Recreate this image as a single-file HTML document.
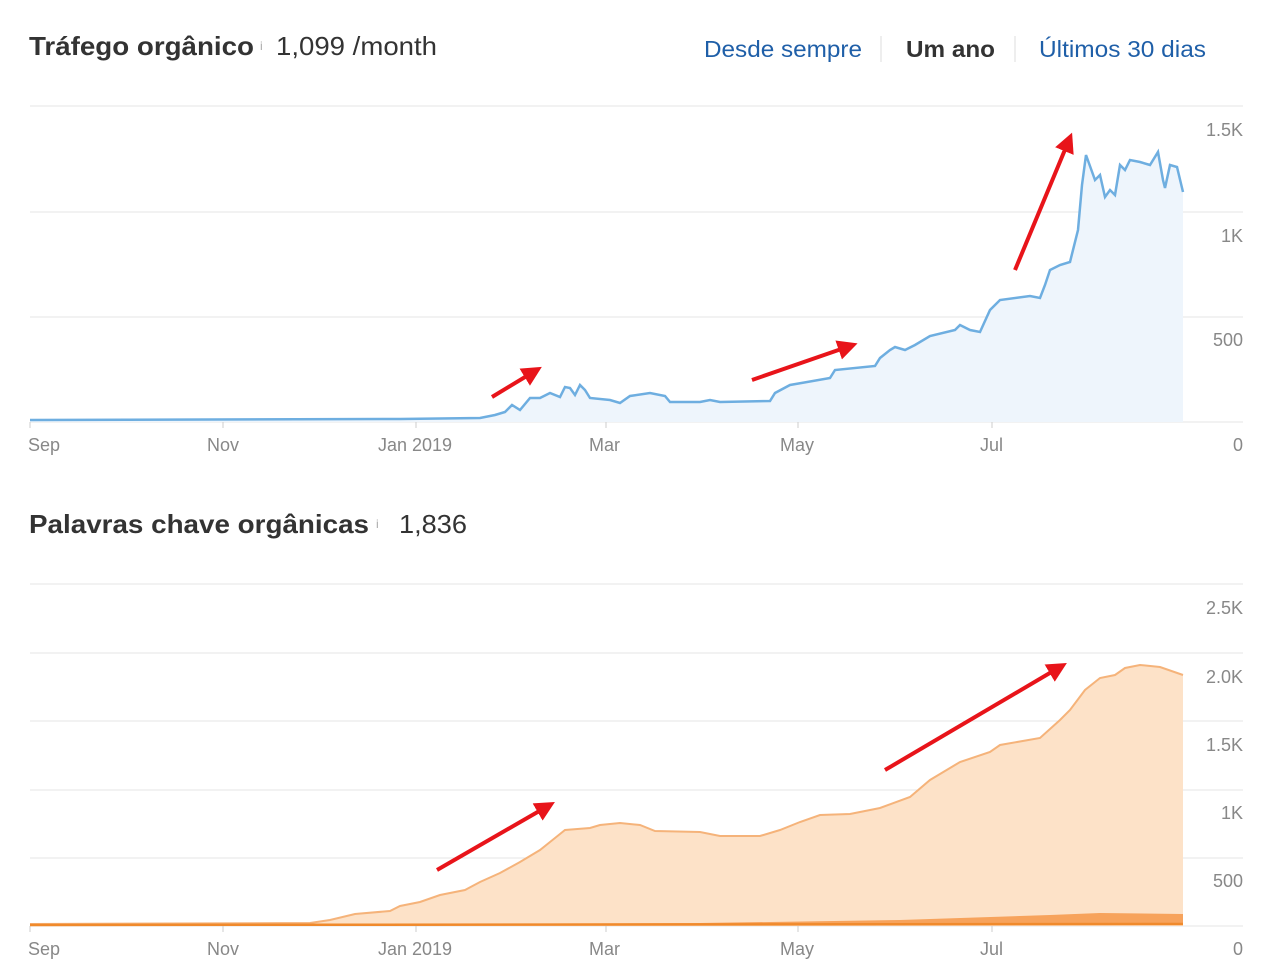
<!DOCTYPE html>
<html><head><meta charset="utf-8"><style>
body{margin:0;background:#fff;width:1275px;height:974px;overflow:hidden;font-family:"Liberation Sans",Arial,sans-serif}
svg text{font-family:"Liberation Sans",Arial,sans-serif}
</style></head><body>
<svg width="1275" height="974" viewBox="0 0 1275 974">
<defs><marker id="ah" markerWidth="6" markerHeight="6" refX="3" refY="3" orient="auto" markerUnits="strokeWidth"><path d="M0,0.5 L5,3 L0,5.5 Z" fill="#e8141a"/></marker></defs>
<text x="29" y="55" font-size="26" font-weight="bold" fill="#333" textLength="225" lengthAdjust="spacingAndGlyphs">Tráfego orgânico</text>
<text x="260" y="50" font-size="12" fill="#aaa">i</text>
<text x="276" y="55" font-size="26" fill="#333" textLength="161" lengthAdjust="spacingAndGlyphs">1,099 /month</text>
<text x="704" y="57" font-size="23" fill="#1f5fa8" textLength="158" lengthAdjust="spacingAndGlyphs">Desde sempre</text>
<line x1="881" y1="36" x2="881" y2="62" stroke="#ddd"/>
<text x="906" y="57" font-size="23" font-weight="bold" fill="#333" textLength="89" lengthAdjust="spacingAndGlyphs">Um ano</text>
<line x1="1015" y1="36" x2="1015" y2="62" stroke="#ddd"/>
<text x="1039" y="57" font-size="23" fill="#1f5fa8" textLength="167" lengthAdjust="spacingAndGlyphs">Últimos 30 dias</text>
<g stroke="#e6e6e6" stroke-width="1">
<line x1="30" y1="106" x2="1243" y2="106"/><line x1="30" y1="212" x2="1243" y2="212"/><line x1="30" y1="317" x2="1243" y2="317"/><line x1="30" y1="422" x2="1243" y2="422"/>
<line x1="30" y1="584" x2="1243" y2="584"/><line x1="30" y1="653" x2="1243" y2="653"/><line x1="30" y1="721" x2="1243" y2="721"/><line x1="30" y1="790" x2="1243" y2="790"/><line x1="30" y1="858" x2="1243" y2="858"/><line x1="30" y1="926" x2="1243" y2="926"/>
</g>
<g stroke="#ccc"><line x1="30" y1="422" x2="30" y2="428"/><line x1="223" y1="422" x2="223" y2="428"/><line x1="416" y1="422" x2="416" y2="428"/><line x1="606" y1="422" x2="606" y2="428"/><line x1="798" y1="422" x2="798" y2="428"/><line x1="992" y1="422" x2="992" y2="428"/>
<line x1="30" y1="926" x2="30" y2="932"/><line x1="223" y1="926" x2="223" y2="932"/><line x1="416" y1="926" x2="416" y2="932"/><line x1="606" y1="926" x2="606" y2="932"/><line x1="798" y1="926" x2="798" y2="932"/><line x1="992" y1="926" x2="992" y2="932"/></g>
<g font-size="18" fill="#888">
<text x="28" y="451">Sep</text><text x="207" y="451">Nov</text><text x="378" y="451">Jan 2019</text><text x="589" y="451">Mar</text><text x="780" y="451">May</text><text x="980" y="451">Jul</text>
<text x="28" y="955">Sep</text><text x="207" y="955">Nov</text><text x="378" y="955">Jan 2019</text><text x="589" y="955">Mar</text><text x="780" y="955">May</text><text x="980" y="955">Jul</text>
</g>
<g font-size="18" fill="#888" text-anchor="end">
<text x="1243" y="136">1.5K</text><text x="1243" y="242">1K</text><text x="1243" y="346">500</text><text x="1243" y="451">0</text>
<text x="1243" y="614">2.5K</text><text x="1243" y="683">2.0K</text><text x="1243" y="751">1.5K</text><text x="1243" y="819">1K</text><text x="1243" y="887">500</text><text x="1243" y="955">0</text>
</g>
<path d="M30,420 L400,419 L480,418 L495,415 L505,412 L512,405 L520,410 L530,398 L540,398 L550,393 L560,397 L565,387 L570,388 L575,395 L580,385 L585,390 L590,398 L610,400 L620,403 L630,396 L650,393 L665,396 L670,402 L700,402 L710,400 L720,402 L770,401 L775,393 L790,385 L830,378 L835,370 L875,366 L880,358 L890,350 L895,347 L905,350 L915,345 L930,336 L955,330 L960,325 L970,330 L980,332 L990,310 L1000,300 L1030,296 L1040,298 L1045,285 L1050,270 L1060,265 L1070,262 L1078,230 L1082,185 L1086,155 L1095,180 L1100,175 L1105,197 L1110,190 L1115,195 L1120,165 L1125,170 L1130,160 L1140,162 L1150,165 L1158,152 L1163,180 L1165,188 L1170,165 L1177,167 L1183,192 L1183,422 L30,422 Z" fill="#eef5fc"/>
<path d="M30,420 L400,419 L480,418 L495,415 L505,412 L512,405 L520,410 L530,398 L540,398 L550,393 L560,397 L565,387 L570,388 L575,395 L580,385 L585,390 L590,398 L610,400 L620,403 L630,396 L650,393 L665,396 L670,402 L700,402 L710,400 L720,402 L770,401 L775,393 L790,385 L830,378 L835,370 L875,366 L880,358 L890,350 L895,347 L905,350 L915,345 L930,336 L955,330 L960,325 L970,330 L980,332 L990,310 L1000,300 L1030,296 L1040,298 L1045,285 L1050,270 L1060,265 L1070,262 L1078,230 L1082,185 L1086,155 L1095,180 L1100,175 L1105,197 L1110,190 L1115,195 L1120,165 L1125,170 L1130,160 L1140,162 L1150,165 L1158,152 L1163,180 L1165,188 L1170,165 L1177,167 L1183,192" fill="none" stroke="#6eaee0" stroke-width="2.5"/>
<text x="29" y="533" font-size="26" font-weight="bold" fill="#333" textLength="340" lengthAdjust="spacingAndGlyphs">Palavras chave orgânicas</text>
<text x="376" y="528" font-size="12" fill="#aaa">i</text>
<text x="399" y="533" font-size="26" fill="#333" textLength="68" lengthAdjust="spacingAndGlyphs">1,836</text>
<path d="M30,924 L310,923 L330,920 L355,914 L390,911 L400,906 L420,902 L440,895 L465,890 L480,882 L500,873 L520,862 L540,850 L555,838 L565,830 L590,828 L600,825 L620,823 L640,825 L655,831 L700,832 L720,836 L760,836 L780,830 L800,822 L820,815 L850,814 L860,812 L880,808 L910,797 L930,780 L960,762 L990,752 L1000,745 L1040,738 L1060,720 L1070,710 L1085,690 L1100,678 L1115,675 L1125,668 L1140,665 L1160,667 L1183,675 L1183,926 L30,926 Z" fill="#fde2c8"/>
<path d="M30,924 L310,923 L330,920 L355,914 L390,911 L400,906 L420,902 L440,895 L465,890 L480,882 L500,873 L520,862 L540,850 L555,838 L565,830 L590,828 L600,825 L620,823 L640,825 L655,831 L700,832 L720,836 L760,836 L780,830 L800,822 L820,815 L850,814 L860,812 L880,808 L910,797 L930,780 L960,762 L990,752 L1000,745 L1040,738 L1060,720 L1070,710 L1085,690 L1100,678 L1115,675 L1125,668 L1140,665 L1160,667 L1183,675" fill="none" stroke="#f5b37a" stroke-width="2"/>
<path d="M30,925 L700,923 L900,920 L1050,915 L1100,913 L1183,914 L1183,923 L30,925 Z" fill="#f7a35c"/>
<line x1="30" y1="925" x2="1183" y2="924" stroke="#f08a2c" stroke-width="2.5"/>
<g stroke="#e8141a" stroke-width="4" fill="none" marker-end="url(#ah)">
<line x1="492" y1="397" x2="535" y2="371"/>
<line x1="752" y1="380" x2="850" y2="346"/>
<line x1="1015" y1="270" x2="1069" y2="140"/>
<line x1="437" y1="870" x2="548" y2="806"/>
<line x1="885" y1="770" x2="1060" y2="667"/>
</g>
</svg>
</body></html>
